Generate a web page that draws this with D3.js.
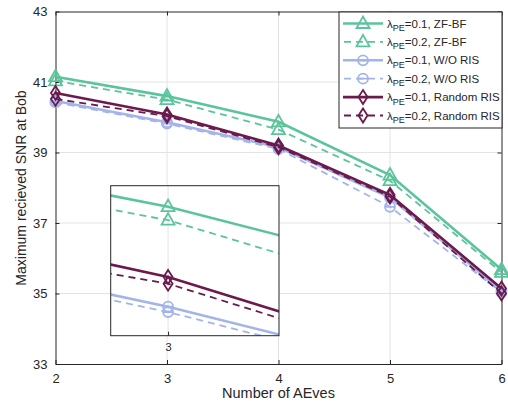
<!DOCTYPE html>
<html lang="en">
<head>
<meta charset="UTF-8">
<title>SNR vs AEves</title>
<script src="https://d3js.org/d3.v7.min.js"></script>
<style>
  body { margin: 0; background: #fff; }
  svg { font-family: "Liberation Sans", Arial, sans-serif; }
</style>
</head>
<body>
<svg id="chart" width="508" height="409"></svg>
<script>
// data
const aeves = [2, 3, 4, 5, 6];
const zf01 = [41.15, 40.60, 39.87, 38.36, 35.68];
const zf02 = [41.03, 40.50, 39.65, 38.20, 35.60];
const wo01 = [40.46, 39.86, 39.15, 37.72, 35.08];
const wo02 = [40.42, 39.82, 39.10, 37.46, 35.03];
const rr01 = [40.69, 40.08, 39.20, 37.80, 35.14];
const rr02 = [40.52, 40.03, 39.15, 37.75, 35.00];
const yTicks = [33, 35, 37, 39, 41, 43];
const legendLabels = ["=0.1, ZF-BF", "=0.2, ZF-BF", "=0.1, W/O RIS", "=0.2, W/O RIS", "=0.1, Random RIS", "=0.2, Random RIS"];

const green = "#5cc49c", blue = "#a3b4ea", maroon = "#6b1a4b";
const series = [
  { vals: zf01, color: green, dash: null, marker: "tri" },
  { vals: zf02, color: green, dash: "7,5", marker: "tri" },
  { vals: wo01, color: blue, dash: null, marker: "circ" },
  { vals: wo02, color: blue, dash: "7,5", marker: "circ" },
  { vals: rr01, color: maroon, dash: null, marker: "dia" },
  { vals: rr02, color: maroon, dash: "7,5", marker: "dia" }
];

const svg = d3.select("#chart");
const axisCol = "#262626", gridCol = "#e3e3e3";
const fmt = d3.format("d");

function markerPath(type) {
  if (type === "tri") return "M0,-7L6.5,4.5L-6.5,4.5Z";
  if (type === "dia") return "M0,-7L4.5,0L0,7L-4.5,0Z";
  return d3.arc()({ innerRadius: 0, outerRadius: 5, startAngle: 0, endAngle: 2 * Math.PI }) + "M-5,0L5,0";
}

function drawSeries(g, x, y) {
  const line = d3.line().x((d, i) => x(aeves[i])).y(d => y(d));
  series.forEach(s => {
    g.append("path")
      .attr("d", line(s.vals))
      .attr("fill", "none")
      .attr("stroke", s.color)
      .attr("stroke-width", s.dash ? 1.8 : 2.6)
      .attr("stroke-dasharray", s.dash);
    g.selectAll(null).data(s.vals).enter().append("path")
      .attr("transform", (d, i) => `translate(${x(aeves[i])},${y(d)})`)
      .attr("d", markerPath(s.marker))
      .attr("fill", "none")
      .attr("stroke", s.color)
      .attr("stroke-width", 1.8);
  });
}

// main axes
const x = d3.scaleLinear().domain([2, 6]).range([55.5, 501.5]);
const y = d3.scaleLinear().domain([33, 43]).range([364, 11.5]);

const grid = svg.append("g");
grid.selectAll(".gx").data(aeves.slice(1, -1)).enter().append("line")
  .attr("x1", d => x(d)).attr("x2", d => x(d))
  .attr("y1", y(33)).attr("y2", y(43))
  .attr("stroke", gridCol);
grid.selectAll(".gy").data(yTicks.slice(1, -1)).enter().append("line")
  .attr("y1", d => y(d)).attr("y2", d => y(d))
  .attr("x1", x(2)).attr("x2", x(6))
  .attr("stroke", gridCol);

const axB = svg.append("g").attr("transform", `translate(0,${y(33)})`)
  .call(d3.axisBottom(x).tickValues(aeves).tickFormat(fmt).tickSizeInner(-4).tickSizeOuter(0).tickPadding(10));
const axT = svg.append("g").attr("transform", `translate(0,${y(43)})`)
  .call(d3.axisTop(x).tickValues(aeves).tickSizeInner(-4).tickSizeOuter(0).tickFormat(""));
const axL = svg.append("g").attr("transform", `translate(${x(2)},0)`)
  .call(d3.axisLeft(y).tickValues(yTicks).tickFormat(fmt).tickSizeInner(-4).tickSizeOuter(0).tickPadding(8));
const axR = svg.append("g").attr("transform", `translate(${x(6)},0)`)
  .call(d3.axisRight(y).tickValues(yTicks).tickSizeInner(-4).tickSizeOuter(0).tickFormat(""));
[axB, axT, axL, axR].forEach(a => {
  a.selectAll("path, line").attr("stroke", axisCol);
  a.selectAll("text").attr("fill", axisCol).style("font-size", "13px").style("font-family", "Liberation Sans, Arial, sans-serif");
});

drawSeries(svg.append("g"), x, y);

// axis titles
svg.append("text").attr("x", 278.5).attr("y", 398)
  .attr("text-anchor", "middle").attr("fill", axisCol).style("font-size", "14.5px")
  .text("Number of AEves");
svg.append("text").attr("transform", "translate(26,188) rotate(-90)")
  .attr("text-anchor", "middle").attr("fill", axisCol).style("font-size", "14px")
  .text("Maximum recieved SNR at Bob");

// inset zoom around x = 3
const ix = d3.scaleLinear().domain([2.85, 3.29]).range([110.7, 279]);
const iy = d3.scaleLinear().domain([39.645, 40.755]).range([335.7, 185.7]);
const inset = svg.append("g");
inset.append("rect").attr("x", 110.7).attr("y", 185.7).attr("width", 168.3).attr("height", 150)
  .attr("fill", "#fff");
inset.append("clipPath").attr("id", "iclip").append("rect")
  .attr("x", 110.7).attr("y", 185.7).attr("width", 168.3).attr("height", 150);
inset.append("line").attr("x1", ix(3)).attr("x2", ix(3)).attr("y1", 185.7).attr("y2", 335.7)
  .attr("stroke", gridCol);
drawSeries(inset.append("g").attr("clip-path", "url(#iclip)"), ix, iy);
inset.append("rect").attr("x", 110.7).attr("y", 185.7).attr("width", 168.3).attr("height", 150)
  .attr("fill", "none").attr("stroke", axisCol).attr("stroke-width", 1);
const iax = inset.append("g").attr("transform", "translate(0,335.7)")
  .call(d3.axisBottom(ix).tickValues([3]).tickFormat(fmt).tickSizeInner(-4).tickSizeOuter(0).tickPadding(8));
iax.select(".domain").remove();
iax.selectAll("line").attr("stroke", axisCol);
iax.selectAll("text").attr("fill", axisCol).style("font-size", "11px");

// legend
const leg = svg.append("g");
leg.append("rect").attr("x", 339).attr("y", 12).attr("width", 163).attr("height", 116)
  .attr("fill", "#fff").attr("stroke", axisCol).attr("stroke-width", 1);
series.forEach((s, i) => {
  const ly = 23.5 + i * 18.4;
  leg.append("line").attr("x1", 343).attr("x2", 383).attr("y1", ly).attr("y2", ly)
    .attr("stroke", s.color).attr("stroke-width", s.dash ? 1.8 : 2.6)
    .attr("stroke-dasharray", s.dash ? "7,5" : null)
    .attr("stroke-dashoffset", s.dash ? -1 : null);
  leg.append("path").attr("transform", `translate(363,${ly})`).attr("d", markerPath(s.marker))
    .attr("fill", "none").attr("stroke", s.color).attr("stroke-width", 1.8);
  const t = leg.append("text").attr("x", 387).attr("y", ly + 4)
    .attr("fill", axisCol).style("font-size", "11.5px");
  t.append("tspan").text("λ");
  t.append("tspan").attr("dy", 3.5).style("font-size", "9px").text("PE");
  t.append("tspan").attr("dy", -3.5).text(legendLabels[i]);
});
</script>
</body>
</html>
